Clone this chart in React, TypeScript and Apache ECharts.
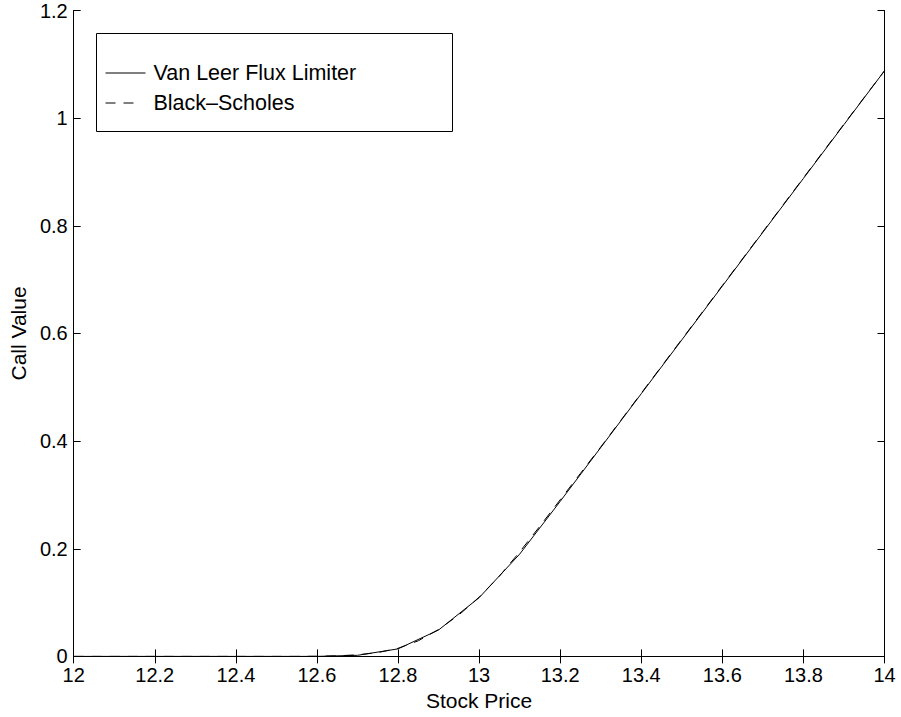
import React, { useEffect, useRef } from "react";
import * as echarts from "echarts";

const xTicks = [12, 12.2, 12.4, 12.6, 12.8, 13, 13.2, 13.4, 13.6, 13.8, 14];
const yTicks = [0, 0.2, 0.4, 0.6, 0.8, 1, 1.2];

const vanLeerPrices = [12, 12.1, 12.2, 12.3, 12.4, 12.5, 12.6, 12.7, 12.8, 12.9, 13, 13.1, 13.2, 13.3, 13.4, 13.5, 13.6, 13.7, 13.8, 13.9, 14];
const vanLeerValues = [0, 0, 0, 0, 0, 0, 0, 0.002, 0.014, 0.049, 0.109, 0.19, 0.288, 0.388, 0.488, 0.588, 0.688, 0.788, 0.888, 0.988, 1.088];

const bsPrices = [12, 12.1, 12.2, 12.3, 12.4, 12.5, 12.55, 12.6, 12.65, 12.7, 12.75, 12.8, 12.85, 12.9, 12.95, 13, 13.05, 13.1, 13.15, 13.2, 13.25, 13.3, 13.35, 13.4, 13.5, 13.6, 13.7, 13.8, 13.9, 14];
const bsValues = [0, 0, 0, 0, 0, 0, 0, 0.0003, 0.001, 0.003, 0.007, 0.015, 0.029, 0.05, 0.077, 0.11, 0.149, 0.194, 0.242, 0.291, 0.34, 0.389, 0.439, 0.489, 0.589, 0.689, 0.789, 0.889, 0.989, 1.088];

const seriesNames = ["Van Leer Flux Limiter", "Black\u2013Scholes"];
const axisNames = { x: "Stock Price", y: "Call Value" };

const FONT = "Liberation Sans, Arial, Helvetica, sans-serif";

export default function App() {
  const ref = useRef<HTMLDivElement>(null);
  useEffect(() => {
    if (!ref.current) return;
    const chart = echarts.init(ref.current, null, { renderer: "svg" });
    const axisLine = { show: true, lineStyle: { color: "#000", width: 1 } };
    const tick = { show: true, inside: true, length: 7, lineStyle: { color: "#000", width: 1 } };
    const label = { color: "#000", fontSize: 20, fontFamily: FONT };
    chart.setOption({
      animation: false,
      backgroundColor: "#fff",
      grid: { left: 72, top: 10.5, right: 16.5, bottom: 60.6, containLabel: false },
      xAxis: [
        {
          type: "value",
          min: xTicks[0],
          max: xTicks[xTicks.length - 1],
          interval: 0.2,
          position: "bottom",
          axisLine,
          axisTick: tick,
          splitLine: { show: false },
          axisLabel: { ...label, margin: 9 },
          name: axisNames.x,
          nameLocation: "middle",
          nameGap: 33,
          nameTextStyle: { color: "#000", fontSize: 21, fontFamily: FONT },
        },
        {
          type: "value",
          min: xTicks[0],
          max: xTicks[xTicks.length - 1],
          interval: 0.2,
          position: "top",
          axisLine,
          axisTick: tick,
          splitLine: { show: false },
          axisLabel: { show: false },
        },
      ],
      yAxis: [
        {
          type: "value",
          min: yTicks[0],
          max: yTicks[yTicks.length - 1],
          interval: 0.2,
          position: "left",
          axisLine,
          axisTick: tick,
          splitLine: { show: false },
          axisLabel: { ...label, margin: 6 },
          name: axisNames.y,
          nameLocation: "middle",
          nameGap: 40,
          nameTextStyle: { color: "#000", fontSize: 21, fontFamily: FONT },
        },
        {
          type: "value",
          min: yTicks[0],
          max: yTicks[yTicks.length - 1],
          interval: 0.2,
          position: "right",
          axisLine,
          axisTick: tick,
          splitLine: { show: false },
          axisLabel: { show: false },
        },
      ],
      graphic: [
        {
          type: "rect",
          shape: { x: 96.5, y: 33.5, width: 356, height: 98 },
          style: { fill: "#fff", stroke: "#000", lineWidth: 1 },
          z: 50,
        },
      ],
      legend: {
        left: 105,
        top: 62,
        orient: "vertical",
        itemWidth: 40,
        itemHeight: 14,
        itemGap: 8,
        padding: 0,
        z: 60,
        itemStyle: { color: "rgba(0,0,0,0)", borderColor: "rgba(0,0,0,0)", borderWidth: 0, opacity: 0 },
        lineStyle: { width: 1, color: "#000" },
        textStyle: { color: "#000", fontSize: 21.5, fontFamily: FONT, lineHeight: 21, padding: [0, 0, 0, 3] },
        data: [
          { name: seriesNames[0], lineStyle: { width: 1, color: "#000", type: "solid" } },
          { name: seriesNames[1], lineStyle: { width: 1, color: "#000", type: [10, 8, 10, 20] } },
        ],
      },
      series: [
        {
          name: seriesNames[0],
          type: "line",
          data: vanLeerPrices.map((x, i) => [x, vanLeerValues[i]]),
          symbol: "none",
          lineStyle: { color: "#000", width: 1, type: "solid" },
          itemStyle: { color: "#000" },
          z: 3,
        },
        {
          name: seriesNames[1],
          type: "line",
          data: bsPrices.map((x, i) => [x, bsValues[i]]),
          symbol: "none",
          lineStyle: { color: "#000", width: 1, type: [10, 8] },
          itemStyle: { color: "#000" },
          z: 2,
        },
      ],
    });
    return () => chart.dispose();
  }, []);
  return (
    <div
      ref={ref}
      style={{ position: "fixed", left: 0, top: 0, width: 901, height: 717, background: "#fff" }}
    />
  );
}
